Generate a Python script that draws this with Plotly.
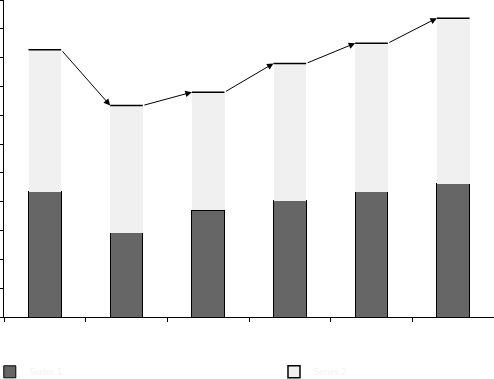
import plotly.graph_objects as go

categories = [0, 1, 2, 3, 4, 5]
series_names = ["Series 1", "Series 2"]
bottom_values = [4.35, 2.93, 3.71, 4.03, 4.34, 4.63]
top_values = [4.92, 4.41, 4.09, 4.77, 5.16, 5.74]

totals = [b + t for b, t in zip(bottom_values, top_values)]
half = 0.2

fig = go.Figure()
fig.add_trace(go.Bar(
    x=categories, y=bottom_values, name=series_names[0], legend="legend",
    marker=dict(color="#666666", line=dict(color="black", width=1)),
    width=0.4,
))
fig.add_trace(go.Bar(
    x=categories, y=top_values, name=series_names[1], showlegend=False,
    marker=dict(color="#f0f0f0", line=dict(width=0)),
    width=0.4,
))
# legend entry for series 2 with outline
fig.add_trace(go.Bar(
    x=[categories[0]], y=[None], name=series_names[1], legend="legend2",
    marker=dict(color="#f0f0f0", line=dict(color="black", width=1.5)),
    width=0.4,
))

# black top lines
lx, ly = [], []
for c, t in zip(categories, totals):
    lx += [c - half, c + half, None]
    ly += [t, t, None]
fig.add_trace(go.Scatter(x=lx, y=ly, mode="lines", line=dict(color="black", width=1.5),
                         showlegend=False, hoverinfo="skip"))

for i in range(len(categories) - 1):
    fig.add_annotation(
        x=categories[i + 1] - half, y=totals[i + 1],
        ax=categories[i] + half, ay=totals[i],
        xref="x", yref="y", axref="x", ayref="y",
        showarrow=True, arrowhead=2, arrowsize=1.3, arrowwidth=1,
        arrowcolor="black", standoff=0, text="",
    )

legend_common = dict(orientation="h", yref="container", y=0.019, yanchor="middle",
                     xanchor="left", font=dict(size=8, color="#f2f2f2"),
                     bgcolor="rgba(0,0,0,0)")
fig.update_layout(
    barmode="stack",
    width=494, height=379,
    margin=dict(l=4, r=0, t=0, b=62, autoexpand=False),
    plot_bgcolor="white", paper_bgcolor="white",
    font=dict(family="DejaVu Sans", size=8, color="#f2f2f2"),
    legend=dict(x=-0.029, **legend_common),
    legend2=dict(x=0.551, **legend_common),
    showlegend=True,
)
fig.update_xaxes(
    range=[-0.5, 5.5], showgrid=False, zeroline=False,
    showline=True, linecolor="black", linewidth=1,
    ticks="outside", ticklen=4, tickcolor="black",
    tickvals=[-0.5, 0.5, 1.5, 2.5, 3.5, 4.5, 5.5],
    ticktext=[""] * 7,
)
fig.update_yaxes(
    range=[0, 11], showgrid=False, zeroline=False,
    showline=True, linecolor="black", linewidth=1,
    ticks="outside", ticklen=4, tickcolor="black",
    dtick=1, showticklabels=False,
)
fig.write_html("out.html")
